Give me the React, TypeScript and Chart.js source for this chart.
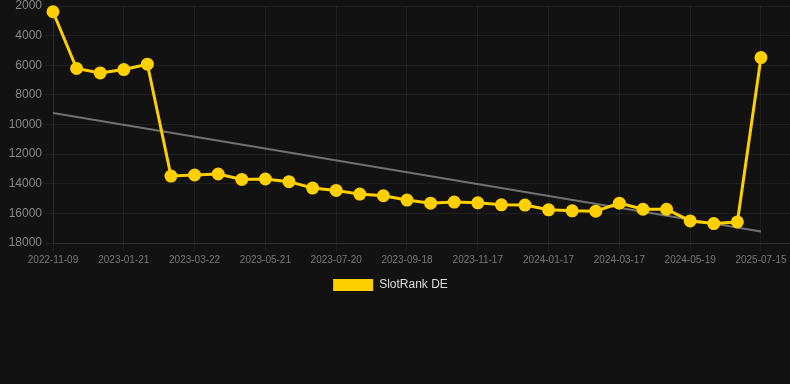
import React, { useEffect, useRef } from "react";
import { Chart, registerables } from "chart.js";

Chart.register(...registerables);

const dates = [
  "2022-11-09", "2022-12-04", "2022-12-28", "2023-01-21", "2023-02-10", "2023-03-02",
  "2023-03-22", "2023-04-11", "2023-05-01", "2023-05-21", "2023-06-10", "2023-06-30",
  "2023-07-20", "2023-08-09", "2023-08-29", "2023-09-18", "2023-10-08", "2023-10-28",
  "2023-11-17", "2023-12-07", "2023-12-28", "2024-01-17", "2024-02-06", "2024-02-26",
  "2024-03-17", "2024-04-06", "2024-04-28", "2024-05-19", "2024-06-08", "2024-06-28",
  "2025-07-15",
];

const rankDE = [
  2390, 6220, 6520, 6290, 5930, 13480, 13410, 13340, 13710, 13680, 13860, 14290,
  14450, 14700, 14810, 15100, 15310, 15240, 15290, 15420, 15440, 15760, 15830, 15850,
  15310, 15720, 15720, 16510, 16690, 16580, 5480,
];

const trendStart = 9230;
const trendEnd = 17230;

const yTicks = [2000, 4000, 6000, 8000, 10000, 12000, 14000, 16000, 18000];
const xTickIndexes = [0, 3, 6, 9, 12, 15, 18, 21, 24, 27, 30];

const FONT = "'Liberation Sans', Arial, Helvetica, sans-serif";
const GRID = "rgba(255,255,255,0.06)";

const legendShift = {
  id: "legendShift",
  afterLayout(chart: any) {
    if (chart.legend) {
      chart.legend.left = 0;
      chart.legend.right = 781;
    }
  },
};

export default function App() {
  const ref = useRef<HTMLCanvasElement | null>(null);

  useEffect(() => {
    if (!ref.current) return;
    const chart = new Chart(ref.current, {
      type: "line",
      plugins: [legendShift],
      data: {
        datasets: [
          {
            label: "SlotRank DE",
            data: rankDE.map((v, i) => ({ x: i, y: v })),
            borderColor: "#ffd000",
            backgroundColor: "#ffd000",
            borderWidth: 3,
            pointRadius: 5,
            pointHoverRadius: 5,
            pointBackgroundColor: "#ffd000",
            pointBorderColor: "#ffd000",
            tension: 0,
            clip: 8,
          },
          {
            label: "trend",
            data: [
              { x: 0, y: trendStart },
              { x: rankDE.length - 1, y: trendEnd },
            ],
            borderColor: "rgba(130,130,130,0.85)",
            borderWidth: 2,
            pointRadius: 0,
            tension: 0,
          },
        ],
      },
      options: {
        animation: false,
        responsive: false,
        maintainAspectRatio: false,
        layout: { autoPadding: false, padding: 0 },
        plugins: {
          tooltip: { enabled: false },
          legend: {
            position: "bottom",
            labels: {
              boxWidth: 40,
              boxHeight: 12,
              color: "#dddddd",
              font: { family: FONT, size: 12 },
              filter: (item) => item.text !== "trend",
              generateLabels: (c: any) =>
                Chart.defaults.plugins.legend.labels
                  .generateLabels(c)
                  .map((l: any) => ({ ...l, lineWidth: 0, fontColor: "#dddddd" })),
            },
          },
        },
        scales: {
          x: {
            type: "linear",
            min: 0,
            max: 31.23,
            grid: { color: GRID, tickLength: 8 },
            border: { color: GRID },
            afterBuildTicks: (scale: any) => {
              scale.ticks = xTickIndexes.map((v) => ({ value: v }));
            },
            afterFit: (scale: any) => {
              scale.paddingLeft = 0;
              scale.paddingRight = 0;
            },
            ticks: {
              autoSkip: false,
              maxRotation: 0,
              color: "#777777",
              font: { family: FONT, size: 10 },
              callback: (v: any) => dates[Number(v)] ?? "",
            },
          },
          y: {
            reverse: true,
            min: 2000,
            max: 18000,
            afterBuildTicks: (scale: any) => {
              scale.ticks = yTicks.map((v) => ({ value: v }));
            },
            afterFit: (scale: any) => {
              scale.width = 53;
              scale.paddingTop = 6;
              scale.paddingBottom = 0;
            },
            grid: { color: GRID, tickLength: 8 },
            border: { color: GRID },
            ticks: {
              color: "#888888",
              font: { family: FONT, size: 12 },
              callback: (v: any) => String(v),
            },
          },
        },
      },
    });
    return () => chart.destroy();
  }, []);

  return (
    <div style={{ position: "fixed", inset: 0, background: "#121212" }}>
      <canvas
        ref={ref}
        width={790}
        height={301}
        style={{ position: "absolute", left: 0, top: 0, width: 790, height: 301 }}
      />
    </div>
  );
}
